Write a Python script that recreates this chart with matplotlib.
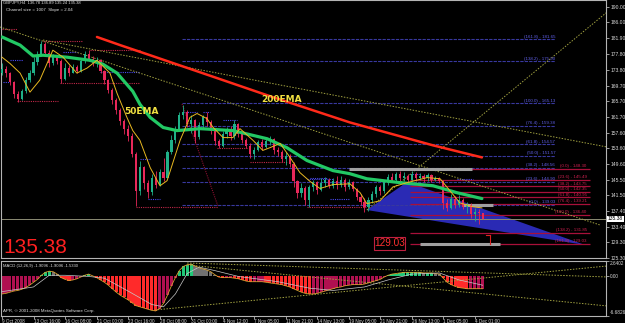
import matplotlib
matplotlib.use("Agg")
import matplotlib.pyplot as plt
from matplotlib.patches import Polygon, Rectangle

plt.rcParams['font.family'] = ['Liberation Sans', 'DejaVu Sans']

# ---------------- data ----------------
first_open = 173.0
closes = [174.0, 172.8, 170.5, 167.5, 166.2, 168.2, 171.0, 172.8, 175.8, 177.5,
          180.5, 178.2, 175.5, 177.0, 176.0, 171.5, 174.2, 173.0, 174.5, 173.5,
          176.0, 177.8, 176.5, 175.5, 176.2, 173.5, 171.0, 168.5, 166.0, 163.5,
          160.5, 158.5, 156.8, 152.0, 142.5, 148.8, 144.5, 142.2, 145.8, 144.2,
          147.5, 146.0, 152.5, 155.8, 158.5, 162.2, 163.0, 159.8, 160.8, 156.5,
          159.5, 161.5, 160.2, 158.0, 155.5, 154.2, 157.2, 158.0, 156.8, 159.8,
          157.2, 155.8, 154.2, 152.0, 153.2, 155.2, 154.0, 155.5, 156.0, 153.0,
          152.5, 150.8, 151.5, 149.5, 145.0, 142.0, 143.2, 140.2, 143.5, 144.8,
          142.8, 144.5, 145.5, 143.8, 145.2, 144.0, 145.5, 143.5, 144.8, 143.0,
          141.0, 139.8, 138.5, 140.2, 141.8, 143.5, 142.5, 144.8, 146.2, 145.5,
          146.8, 145.8, 146.5, 145.5, 146.8, 146.0, 146.5, 145.8, 146.6, 145.5,
          145.8, 145.2, 139.5, 138.2, 140.5, 139.0, 140.2, 138.5, 139.0, 136.5,
          137.2, 136.78, 135.38]
highs = [175.5, 174.8, 173.2, 170.8, 168.2, 168.8, 171.8, 173.6, 177.0, 178.5,
         181.2, 180.8, 178.8, 177.8, 177.5, 176.5, 175.4, 175.0, 175.3, 175.0,
         176.8, 178.5, 178.8, 177.2, 177.0, 176.5, 173.8, 171.5, 169.0, 166.5,
         164.0, 161.2, 159.5, 157.5, 152.5, 150.4, 149.0, 145.5, 147.0, 147.8,
         148.2, 151.0, 153.2, 157.0, 159.2, 163.0, 164.8, 163.5, 162.0, 161.0,
         160.2, 162.2, 162.8, 160.8, 158.5, 156.0, 158.0, 159.0, 159.2, 160.7,
         160.0, 157.8, 156.2, 154.8, 154.0, 155.8, 156.0, 156.2, 156.8, 156.2,
         154.0, 153.2, 152.5, 152.0, 150.0, 145.5, 144.5, 143.8, 144.2, 145.5,
         145.2, 145.8, 146.2, 145.8, 146.0, 146.5, 146.3, 145.8, 145.6, 145.2,
         143.4, 141.8, 140.8, 141.0, 142.5, 144.2, 144.0, 145.5, 147.0, 147.3,
         147.5, 147.8, 147.5, 147.0, 147.8, 147.5, 147.2, 147.0, 147.3, 147.0,
         146.5, 146.2, 145.5, 140.5, 141.8, 141.2, 141.5, 140.8, 139.8, 139.5,
         138.2, 137.8, 136.89]
lows = [172.5, 172.0, 169.8, 166.5, 165.5, 166.0, 167.8, 170.5, 172.5, 175.0,
        177.2, 177.5, 174.5, 175.0, 175.2, 170.3, 171.0, 172.2, 172.8, 172.8,
        173.2, 175.5, 176.0, 174.8, 174.5, 172.8, 170.2, 167.8, 165.0, 162.5,
        159.5, 157.2, 155.5, 151.2, 138.7, 141.5, 143.0, 140.8, 141.5, 143.4,
        143.8, 145.2, 145.8, 152.0, 155.0, 158.0, 161.0, 159.0, 157.5, 155.0,
        156.0, 158.8, 159.2, 157.2, 154.5, 153.5, 154.0, 156.2, 155.8, 156.0,
        156.5, 154.8, 153.5, 151.0, 150.8, 152.8, 153.2, 153.5, 154.5, 152.2,
        151.5, 150.0, 149.2, 148.6, 143.5, 140.8, 141.0, 139.0, 138.5, 142.5,
        141.8, 142.5, 143.5, 143.2, 143.4, 143.0, 143.5, 142.6, 143.0, 142.5,
        140.2, 139.0, 137.2, 137.3, 139.5, 141.0, 141.5, 142.0, 144.2, 145.0,
        145.2, 145.0, 145.2, 144.7, 145.0, 145.0, 145.3, 144.8, 145.2, 144.8,
        145.0, 144.5, 138.0, 137.5, 137.8, 138.2, 138.5, 138.0, 136.8, 135.5,
        134.8, 134.0, 135.24]

# moving averages (bar index, price)
ema200_x = [24.1, 30.0, 37.6, 50.3, 67.3, 88.3, 109.4, 121.8]
ema200_y = [182.2, 180.1, 177.5, 173.1, 167.2, 160.2, 154.3, 151.2]
ema50_x = [0, 4.6, 7.9, 10.4, 16.5, 22.3, 25.6, 29.2, 33.2, 35.0, 37.6, 40.9,
           44.4, 50.3, 58.6, 67.3, 72.3, 77.4, 84.0, 88.3, 92.6, 101.0, 109.4,
           115.5, 121.8]
ema50_y = [182.2, 180.1, 177.3, 177.5, 177.0, 176.2, 175.2, 172.9, 168.2, 164.9,
           161.5, 158.9, 158.1, 158.6, 158.1, 156.0, 153.7, 150.4, 147.8, 147.0,
           145.7, 144.7, 143.9, 142.1, 140.6]
fast_x = [0, 2.0, 4.6, 7.1, 9.6, 12.9, 15.5, 19.0, 21.6, 24.1, 27.4, 29.2, 31.7,
          33.2, 35.0, 37.6, 40.1, 41.9, 45.2, 47.7, 49.5, 52.0, 53.6, 56.1, 58.6,
          60.4, 63.7, 66.2, 68.0, 70.6, 73.1, 75.6, 78.2, 80.7, 84.0, 88.3, 90.9,
          92.6, 95.9, 99.2, 102.8, 107.9, 111.2, 113.7, 116.2, 119.5, 121.8]
fast_y = [177.0, 175.4, 172.9, 168.0, 171.1, 178.8, 177.0, 172.9, 174.2, 176.2,
          172.9, 167.7, 161.5, 158.1, 155.6, 148.6, 143.9, 145.2, 155.6, 161.5,
          162.5, 161.2, 158.9, 156.3, 156.3, 158.6, 155.6, 153.0, 153.7, 154.8,
          151.2, 147.3, 145.0, 143.2, 144.2, 144.4, 142.1, 139.3, 140.0, 143.6,
          144.7, 146.0, 145.7, 142.6, 139.5, 138.5, 138.2]

# MACD histogram, one value per bar
macd = [-3.0, -2.9, -2.7, -2.5, -2.4, -2.2, -1.9, -1.5, -1.0, -0.5,
        0.2, 0.7, 0.9, 0.8, 0.4, -0.2, -0.5, -0.7, -0.6, -0.4,
        -0.1, 0.2, 0.4, 0.1, -0.2, -0.6, -1.0, -1.5, -2.1, -2.7,
        -3.2, -3.6, -4.0, -4.5, -5.0, -5.2, -5.4, -5.6, -5.8, -5.9,
        -5.5, -4.6, -3.2, -1.6, -0.2, 1.0, 1.7, 2.0, 2.1, 1.8,
        1.5, 1.3, 1.1, 0.8, 0.3, -0.1, -0.2, -0.2, -0.2, -0.3,
        -0.4, -0.6, -0.8, -0.9, -0.9, -0.9, -0.9, -1.0, -1.1, -1.2,
        -1.3, -1.4, -1.6, -1.8, -2.1, -2.4, -2.7, -2.9, -3.0, -3.0,
        -2.9, -2.7, -2.5, -2.3, -2.1, -1.9, -1.8, -1.6, -1.5, -1.4,
        -1.4, -1.4, -1.3, -1.1, -0.9, -0.7, -0.5, -0.1, 0.2, 0.4,
        0.5, 0.6, 0.7, 0.7, 0.7, 0.7, 0.7, 0.6, 0.6, 0.6,
        0.5, 0.4, -0.3, -1.0, -1.4, -1.7, -1.9, -2.0, -2.1, -2.1,
        -2.1, -2.1, -2.1]
signal_x = [0, 8, 12, 16, 22, 26, 32, 38, 41, 44, 47, 50, 54, 60, 70, 78, 84,
            92, 98, 104, 111, 116, 122]
signal_y = [-2.6, -1.8, 0.2, 0.2, 0.0, -0.3, -2.5, -4.8, -5.2, -3.0, 0.5, 1.6,
            1.0, 0.0, -0.9, -2.0, -2.4, -1.8, -0.6, 0.4, 0.6, -0.6, -1.5]

# Fibonacci levels
blue_levels = ["161.8", "138.2", "100.0", "76.4", "61.8", "50.0", "38.2", "23.6", "0.0"]
blue_prices = [181.65, 175.90, 165.13, 159.38, 154.57, 151.57, 148.56, 144.90, 139.03]
red_levels = ["0.0", "23.6", "38.2", "50.0", "61.8", "76.4", "100.0", "138.2", "161.8"]
red_prices = [148.30, 145.49, 143.75, 142.35, 140.95, 139.21, 136.40, 131.85, 129.03]

# short dotted swing lines: (start bar, end bar, price)
red_swings = [(0, 3.8, 184.2), (3.8, 14.2, 165.6), (10.4, 20.6, 181.1),
              (22.3, 35.0, 178.8), (14.7, 35.0, 170.3), (34.0, 54.8, 138.5),
              (54.6, 62.2, 153.5), (63.0, 72.3, 150.1), (77.4, 92.6, 138.5)]
blue_swings = [(2.0, 5.3, 176.2), (0.3, 2.0, 170.5), (24.9, 35.0, 173.1),
               (15.5, 19.0, 178.3), (35.0, 37.6, 150.9), (37.0, 40.1, 140.6),
               (45.9, 49.5, 163.0), (51.0, 52.8, 162.8), (56.1, 59.6, 160.7),
               (77.4, 84.0, 145.7), (83.2, 88.3, 140.6), (78.2, 82.5, 146.0),
               (103.6, 106.1, 147.0), (115.5, 119.5, 145.7)]
# trend lines (x0, x1, p0, p1)
trend_lines = [(-0.5, 151.8, 184.77, 133.79), (10.4, 153.6, 181.42, 153.87),
               (92.6, 153.6, 137.65, 188.63)]
macd_lines = [(47.0, 153.6, 2.30, -0.09), (47.0, 153.6, 1.96, -5.05),
              (38.8, 153.6, -5.74, 1.79)]
gray_bars = [(88.1, 119.3, 148.21), (117.0, 124.6, 138.94), (106.0, 126.4, 128.90)]
triangle = [(92.6, 137.65), (102.8, 144.87), (148.0, 128.65)]

main_ticks = [190.00, 186.00, 181.90, 177.80, 173.80, 169.70, 165.70, 161.70,
              157.60, 153.60, 149.60, 145.50, 141.50, 137.40, 133.40, 129.30, 125.30]
macd_ticks = [2.6402, 0.0, -6.6826]
macd_tick_labels = ["2.6402", "0.00", "-6.6826"]
x_tick_bars = [0, 8, 16, 24, 32, 40, 48, 56, 64, 72, 80, 88, 96, 104, 112, 120]
x_tick_labels = ["9 Oct 2008", "13 Oct 16:00", "16 Oct 08:00", "21 Oct 00:00",
                 "23 Oct 16:00", "28 Oct 08:00", "31 Oct 00:00", "4 Nov 12:00",
                 "7 Nov 05:00", "11 Nov 21:00", "14 Nov 13:00", "19 Nov 05:00",
                 "21 Nov 21:00", "26 Nov 13:00", "1 Dec 05:00", "4 Dec 01:00"]
last_price = 135.38

# ---------------- figure ----------------
W, H = 625, 323
fig = plt.figure(figsize=(W / 100, H / 100), dpi=100, facecolor='black')


def fx(px):
    return px / W


def fy(py):
    return 1 - py / H


ax = fig.add_axes([fx(1), fy(258), fx(606) - fx(1), 258 / H])
ax2 = fig.add_axes([fx(1), fy(315.5), fx(606) - fx(1), (315.5 - 261) / H])
XL = (-0.254, 153.3)
for a in (ax, ax2):
    a.set_facecolor('black')
    a.set_xlim(*XL)
    for s in a.spines.values():
        s.set_color('#b4b4b4')
        s.set_linewidth(0.8)
ax.set_ylim(125.30, 191.72)
ax2.set_ylim(-6.6826, 2.6402)

# blue triangle
ax.add_patch(Polygon(triangle, closed=True, facecolor='#2a2ab4', edgecolor='none', zorder=1))

# fib lines
bx0, bx1 = 45.7, 140.4
for lvl, p in zip(blue_levels, blue_prices):
    ax.hlines(p, bx0, bx1, color='#38389e', lw=0.8, linestyles=(0, (3, 1)), zorder=1.5)
    ax.text(bx1, p + 0.15, f"({lvl}) - {p:.2f}", ha='right', va='bottom',
            fontsize=3.2, color='#6060e8', zorder=5)
rx0, rx1 = 103.6, 149.2
for lvl, p in zip(red_levels, red_prices):
    ax.hlines(p, rx0, rx1, color='#a8103a', lw=0.9, zorder=1.5)
    ax.text(rx1 - 0.8, p + 0.15, f"({lvl}) - {p:.2f}", ha='right', va='bottom',
            fontsize=3.2, color='#d02050', zorder=5)

# swing lines
for x0, x1, p in red_swings:
    ax.hlines(p, x0, x1, color='#c02848', lw=0.8, linestyles=(0, (1, 1)), zorder=2)
for x0, x1, p in blue_swings:
    ax.hlines(p, x0, x1, color='#4848f0', lw=0.8, linestyles=(0, (1, 1)), zorder=2)
ax.plot([45.7, 54.8], [164.94, 138.68], color='#8a1030', lw=0.8, ls=(0, (1, 1)), zorder=2)

for x0, x1, p0, p1 in trend_lines:
    ax.plot([x0, x1], [p0, p1], color='#a0a040', lw=0.7, ls=(0, (1.5, 1.5)), zorder=2,
            clip_on=False)

# current price line
ax.axhline(last_price, color='#8c8c74', lw=0.7, zorder=1.6)

# gray bars
for x0, x1, p in gray_bars:
    ax.hlines(p, x0, x1, color='#a0a0a0', lw=2.2, zorder=2.5)
ax.plot([123.9, 123.9], [128.9, 131.2], color='#e02020', lw=0.8, zorder=3)
ax.plot([122.8, 123.9], [131.2, 131.2], color='#e02020', lw=0.8, zorder=3)

# candles
bull, bear = '#1fb088', '#e8285a'
opens = [first_open] + closes[:-1]
for i, (o, c, h, l) in enumerate(zip(opens, closes, highs, lows)):
    col = bull if c >= o else bear
    ax.vlines(i, l, h, color=col, lw=0.6, zorder=3)
    ax.bar(i, max(abs(c - o), 0.2), bottom=min(o, c), width=0.55, color=col,
           linewidth=0, zorder=3)

# moving averages
ax.plot(ema200_x, ema200_y, color='#ff2a1a', lw=1.8, zorder=4, solid_capstyle='round')
ax.plot(ema50_x, ema50_y, color='#22c864', lw=2.3, zorder=4, solid_capstyle='round')
ax.plot(fast_x, fast_y, color='#e8b820', lw=0.7, zorder=4.5)

# texts in main
ax.text(35.5, 163.1, "50EMA", fontsize=6.5, fontweight='bold', color='#f0e040',
        family='DejaVu Sans', va='center', ha='center', zorder=6)
ax.text(71.0, 166.0, "200EMA", fontsize=6.5, fontweight='bold', color='#f0e040',
        family='DejaVu Sans', va='center', ha='center', zorder=6)

ax.yaxis.tick_right()
ax.set_yticks(main_ticks)
ax.set_yticklabels([f"{v:.2f}" for v in main_ticks])
ax.tick_params(axis='y', labelsize=3.6, colors='#d8d8d8', length=2, width=0.5, pad=1)
ax.set_xticks([])

# MACD
prev = None
for i, v in enumerate(macd):
    rising = prev is None or v >= prev
    if v < 0:
        col = '#b01050' if rising else '#ff2a2a'
    else:
        col = '#20c878' if rising else '#707070'
    ax2.bar(i, v, width=0.8, color=col, linewidth=0, zorder=2)
    prev = v
ax2.plot(range(len(macd)), macd, color='#d8a030', lw=0.6, zorder=3)
ax2.plot(signal_x, signal_y, color='#c8c8c8', lw=0.5, zorder=3)
for x0, x1, v0, v1 in macd_lines:
    ax2.plot([x0, x1], [v0, v1], color='#a0a040', lw=0.7, ls=(0, (1.5, 1.5)), zorder=2)

ax2.yaxis.tick_right()
ax2.set_yticks(macd_ticks)
ax2.set_yticklabels(macd_tick_labels)
ax2.tick_params(axis='y', labelsize=3.4, colors='#d8d8d8', length=2, width=0.5, pad=0.8)
ylabels = ax2.get_yticklabels()
ylabels[0].set_va('top')
ylabels[-1].set_va('bottom')
ax2.set_xticks(x_tick_bars)
ax2.set_xticklabels(x_tick_labels)
ax2.tick_params(axis='x', labelsize=3.3, colors='#d8d8d8', length=2, width=0.5, pad=0.6)
for lbl in ax2.get_xticklabels():
    lbl.set_ha('left')

# figure texts
fig.text(fx(3), fy(3), "GBPJPY,H4  136.78 136.89 135.24 135.38", fontsize=3.0,
         color='#e0e0e0', va='center', ha='left')
fig.text(fx(6), fy(10), "Channel size = 1007  Slope = 2.04", fontsize=3.2,
         color='#e0e0e0', va='center', ha='left')
fig.text(fx(3), fy(253), f"{last_price:.2f}", fontsize=15, color='#ff2020',
         va='baseline', ha='left')
fig.text(fx(389.5), fy(243), "129.03", fontsize=7.2, color='#ff3030', va='center',
         ha='center')
fig.patches.append(Rectangle((fx(374), fy(249.5)), fx(405) - fx(374), 12.5 / H,
                             transform=fig.transFigure, facecolor='none',
                             edgecolor='#c02040', lw=0.8))
fig.text(fx(608), fy(219), f"{last_price:.2f}", fontsize=3.6, color='black',
         va='center', ha='left',
         bbox=dict(facecolor='white', edgecolor='none', pad=0.4))
fig.text(fx(3), fy(265.5), "MACD (12,26,9) -1.9096 -1.9096 -1.5330", fontsize=3.0,
         color='#e0e0e0', va='center', ha='left')
fig.text(fx(3), fy(311), "APR, \u00a9 2001-2008 MetaQuotes Software Corp.", fontsize=3.2,
         color='#e0e0e0', va='center', ha='left')

fig.savefig("out.png", dpi=100, facecolor='black')
